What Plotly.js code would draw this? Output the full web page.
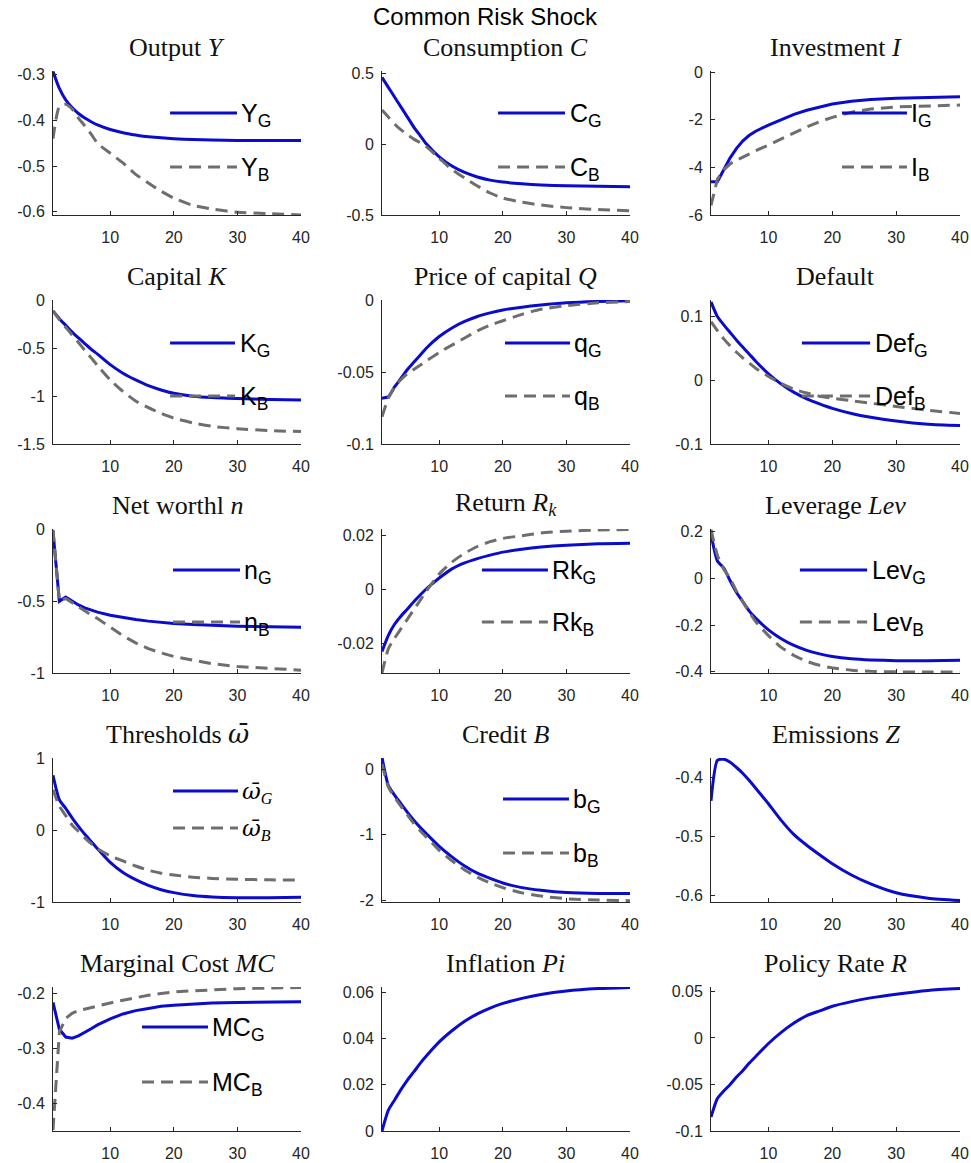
<!DOCTYPE html>
<html><head><meta charset="utf-8">
<script src="https://cdn.plot.ly/plotly-3.0.1.min.js"></script>
<style>html,body{margin:0;padding:0;background:#fff}</style>
</head><body><div id="chart" style="width:971px;height:1163px"></div>
<script>
// ---------------- data ----------------
const periods = [1,2,3,4,5,6,7,8,10,12,14,16,18,20,23,26,30,35,40];

const outputG = [-0.293,-0.33,-0.355,-0.372,-0.385,-0.395,-0.403,-0.41,-0.42,-0.427,-0.432,-0.436,-0.438,-0.44,-0.442,-0.443,-0.444,-0.444,-0.444];
const outputB = [-0.44,-0.37,-0.365,-0.375,-0.395,-0.412,-0.43,-0.45,-0.472,-0.493,-0.518,-0.537,-0.555,-0.57,-0.586,-0.594,-0.601,-0.604,-0.607];

const consG = [0.47,0.4,0.33,0.26,0.19,0.12,0.06,0.0,-0.09,-0.155,-0.2,-0.232,-0.254,-0.268,-0.28,-0.288,-0.294,-0.298,-0.3];
const consB = [0.24,0.19,0.14,0.1,0.065,0.035,0.01,-0.02,-0.1,-0.18,-0.24,-0.295,-0.345,-0.38,-0.41,-0.43,-0.448,-0.462,-0.47];

const invG = [-4.6,-4.6,-4.1,-3.6,-3.2,-2.88,-2.65,-2.48,-2.22,-1.98,-1.77,-1.6,-1.46,-1.34,-1.22,-1.15,-1.09,-1.05,-1.03];
const invB = [-5.6,-4.5,-4.1,-3.85,-3.7,-3.56,-3.42,-3.3,-3.06,-2.8,-2.54,-2.3,-2.08,-1.9,-1.68,-1.55,-1.46,-1.41,-1.38];

const capG = [-0.11,-0.19,-0.26,-0.33,-0.39,-0.45,-0.51,-0.56,-0.67,-0.76,-0.83,-0.89,-0.935,-0.97,-1.0,-1.015,-1.025,-1.035,-1.04];
const capB = [-0.11,-0.2,-0.28,-0.36,-0.44,-0.52,-0.6,-0.68,-0.83,-0.95,-1.05,-1.12,-1.18,-1.23,-1.28,-1.315,-1.34,-1.36,-1.37];

const qG = [-0.068,-0.067,-0.06,-0.054,-0.048,-0.043,-0.038,-0.033,-0.025,-0.019,-0.0145,-0.011,-0.0085,-0.0065,-0.0045,-0.003,-0.0015,-0.0005,0.0];
const qB = [-0.081,-0.068,-0.06,-0.055,-0.051,-0.048,-0.045,-0.042,-0.036,-0.031,-0.026,-0.021,-0.017,-0.014,-0.0095,-0.006,-0.0035,-0.0015,-0.0005];

const defG = [0.123,0.1,0.087,0.075,0.063,0.052,0.041,0.03,0.01,-0.006,-0.019,-0.029,-0.037,-0.044,-0.052,-0.058,-0.064,-0.069,-0.071];
const defB = [0.092,0.078,0.065,0.054,0.044,0.035,0.027,0.019,0.006,-0.005,-0.014,-0.02,-0.025,-0.028,-0.032,-0.036,-0.041,-0.047,-0.052];

const nwG = [-0.01,-0.5,-0.47,-0.5,-0.525,-0.545,-0.56,-0.575,-0.597,-0.613,-0.627,-0.638,-0.647,-0.654,-0.662,-0.668,-0.673,-0.677,-0.68];
const nwB = [0.0,-0.5,-0.48,-0.51,-0.54,-0.57,-0.595,-0.62,-0.68,-0.74,-0.79,-0.83,-0.86,-0.885,-0.91,-0.935,-0.955,-0.97,-0.98];

const rkG = [-0.023,-0.017,-0.0128,-0.0098,-0.0072,-0.0045,-0.002,0.0003,0.0043,0.0077,0.0099,0.0115,0.0128,0.0139,0.015,0.0158,0.0165,0.017,0.0172];
const rkB = [-0.031,-0.022,-0.018,-0.0145,-0.011,-0.0075,-0.004,-0.0005,0.0058,0.0102,0.0135,0.016,0.0178,0.019,0.02,0.021,0.0217,0.0221,0.0223];

const levG = [0.19,0.075,0.045,-0.01,-0.06,-0.1,-0.14,-0.17,-0.22,-0.258,-0.287,-0.308,-0.323,-0.334,-0.344,-0.349,-0.352,-0.352,-0.35];
const levB = [0.21,0.1,0.04,0.0,-0.055,-0.1,-0.145,-0.185,-0.245,-0.295,-0.33,-0.355,-0.372,-0.383,-0.393,-0.398,-0.4,-0.401,-0.4];

const omegaG = [0.76,0.42,0.3,0.17,0.05,-0.06,-0.16,-0.26,-0.45,-0.59,-0.69,-0.77,-0.83,-0.87,-0.91,-0.93,-0.94,-0.94,-0.935];
const omegaB = [0.56,0.33,0.2,0.07,-0.02,-0.11,-0.19,-0.26,-0.36,-0.43,-0.5,-0.56,-0.6,-0.625,-0.655,-0.672,-0.685,-0.692,-0.695];

const creditG = [0.18,-0.25,-0.4,-0.53,-0.66,-0.78,-0.89,-0.99,-1.18,-1.34,-1.48,-1.59,-1.67,-1.74,-1.81,-1.85,-1.885,-1.9,-1.9];
const creditB = [0.08,-0.27,-0.43,-0.57,-0.7,-0.83,-0.94,-1.04,-1.24,-1.4,-1.54,-1.65,-1.74,-1.81,-1.89,-1.94,-1.98,-2.0,-2.01];

const emissions = [-0.44,-0.372,-0.37,-0.375,-0.384,-0.394,-0.406,-0.419,-0.445,-0.473,-0.497,-0.515,-0.531,-0.546,-0.565,-0.58,-0.595,-0.604,-0.608];

const mcG = [-0.216,-0.265,-0.279,-0.281,-0.277,-0.271,-0.264,-0.257,-0.246,-0.237,-0.231,-0.227,-0.223,-0.221,-0.219,-0.217,-0.216,-0.215,-0.215];
const mcB = [-0.448,-0.27,-0.245,-0.236,-0.231,-0.228,-0.225,-0.222,-0.217,-0.212,-0.207,-0.203,-0.2,-0.197,-0.195,-0.193,-0.191,-0.19,-0.189];

const inflation = [0.0,0.009,0.0135,0.018,0.022,0.0255,0.0292,0.0325,0.0385,0.0433,0.0474,0.0506,0.0531,0.0551,0.0573,0.059,0.0605,0.0615,0.062];
const policyRate = [-0.085,-0.065,-0.057,-0.05,-0.042,-0.035,-0.027,-0.02,-0.006,0.006,0.016,0.024,0.029,0.034,0.039,0.043,0.047,0.051,0.053];

const superTitle = "Common Risk Shock";
const OMEGA = "<span style='font-family:DejaVu Serif'>\u03C9\u0304</span>";
const titles = ["Output <i>Y</i>","Consumption <i>C</i>","Investment <i>I</i>",
  "Capital <i>K</i>","Price of capital <i>Q</i>","Default",
  "Net worthl <i>n</i>","Return <i>R<sub>k</sub></i>","Leverage <i>Lev</i>",
  "Thresholds <i>"+OMEGA+"</i>","Credit <i>B</i>","Emissions <i>Z</i>",
  "Marginal Cost <i>MC</i>","Inflation <i>Pi</i>","Policy Rate <i>R</i>"];
const legendG = ["Y<sub>G</sub>","C<sub>G</sub>","I<sub>G</sub>","K<sub>G</sub>","q<sub>G</sub>","Def<sub>G</sub>",
  "n<sub>G</sub>","Rk<sub>G</sub>","Lev<sub>G</sub>","<i>"+OMEGA+"</i><sub><i>G</i></sub>","b<sub>G</sub>",null,
  "MC<sub>G</sub>",null,null];
const legendB = ["Y<sub>B</sub>","C<sub>B</sub>","I<sub>B</sub>","K<sub>B</sub>","q<sub>B</sub>","Def<sub>B</sub>",
  "n<sub>B</sub>","Rk<sub>B</sub>","Lev<sub>B</sub>","<i>"+OMEGA+"</i><sub><i>B</i></sub>","b<sub>B</sub>",null,
  "MC<sub>B</sub>",null,null];
const xTickVals = [10,20,30,40];
const xTickText = ["10","20","30","40"];
const yTickVals = [[-0.6,-0.5,-0.4,-0.3],[-0.5,0,0.5],[-6,-4,-2,0],
  [-1.5,-1,-0.5,0],[-0.1,-0.05,0],[-0.1,0,0.1],
  [-1,-0.5,0],[-0.02,0,0.02],[-0.4,-0.2,0,0.2],
  [-1,0,1],[-2,-1,0],[-0.6,-0.5,-0.4],
  [-0.4,-0.3,-0.2],[0,0.02,0.04,0.06],[-0.1,-0.05,0,0.05]];
const yTickText = [["-0.6","-0.5","-0.4","-0.3"],["-0.5","0","0.5"],["-6","-4","-2","0"],
  ["-1.5","-1","-0.5","0"],["-0.1","-0.05","0"],["-0.1","0","0.1"],
  ["-1","-0.5","0"],["-0.02","0","0.02"],["-0.4","-0.2","0","0.2"],
  ["-1","0","1"],["-2","-1","0"],["-0.6","-0.5","-0.4"],
  ["-0.4","-0.3","-0.2"],["0","0.02","0.04","0.06"],["-0.1","-0.05","0","0.05"]];

// ---------------- panel configuration ----------------
const seriesG = [outputG,consG,invG,capG,qG,defG,nwG,rkG,levG,omegaG,creditG,emissions,mcG,inflation,policyRate];
const seriesB = [outputB,consB,invB,capB,qB,defB,nwB,rkB,levB,omegaB,creditB,null,mcB,null,null];
const yRanges = [[-0.607,-0.292],[-0.5,0.515],[-6,0.05],
  [-1.5,0.005],[-0.1,0.0005],[-0.1,0.126],
  [-1,0.005],[-0.031,0.0225],[-0.405,0.212],
  [-1,1],[-2.03,0.17],[-0.6105,-0.368],
  [-0.45,-0.188],[0,0.0622],[-0.1,0.0547]];
const lineShape = ['spline','spline','linear','spline','spline','spline','linear','spline','spline','spline','spline','spline','linear','spline','spline'];
// legend sample [x0, x1, yG, yB] in axis-domain fractions
const legPos = [[0.472,0.742,0.708,0.333],[0.468,0.738,0.708,0.333],[0.526,0.787,0.708,0.333],
  [0.472,0.734,0.701,0.333],[0.496,0.758,0.701,0.333],[0.365,0.639,0.701,0.333],
  [0.484,0.754,0.715,0.354],[0.403,0.669,0.715,0.354],[0.357,0.627,0.715,0.354],
  [0.484,0.746,0.771,0.514],[0.488,0.754,0.715,0.34],null,
  [0.359,0.625,0.722,0.34],null,null];

const W = 971, H = 1163;
const colLeft = [53,382,711], colRight = [301,630,960];
const rowTop = [71,300,529,758,987], plotH = 144;
const BLUE = '#0b0bcc', GRAY = '#6e6e6e', AX = '#262626';
const SANS = 'Liberation Sans, Arial, sans-serif';
const SERIF = 'Liberation Serif, Times New Roman, serif';

const data = [], layout = {
  width: W, height: H, autosize: false,
  margin: {l:0, r:0, t:0, b:0, pad:0},
  paper_bgcolor: '#fff', plot_bgcolor: '#fff',
  showlegend: false, shapes: [], annotations: []
};

for (let i = 0; i < 15; i++) {
  const r = Math.floor(i/3), c = i % 3;
  const sfx = i === 0 ? '' : String(i+1);
  const xa = 'x'+sfx, ya = 'y'+sfx;
  const x0 = colLeft[c]/W, x1 = colRight[c]/W;
  const yTop = 1 - rowTop[r]/H, yBot = 1 - (rowTop[r]+plotH)/H;
  layout['xaxis'+sfx] = {
    domain:[x0,x1], anchor: ya, range:[1,40], tickmode:'array',
    tickvals: xTickVals, ticktext: xTickText, ticks:'inside', ticklen:4, tickwidth:1, tickcolor:AX,
    showline:true, linecolor:AX, linewidth:1, showgrid:false, zeroline:false,
    tickfont:{family:SANS, size:16, color:AX}, ticklabelstandoff: 8, fixedrange:true
  };
  layout['yaxis'+sfx] = {
    domain:[yBot,yTop], anchor: xa, range: yRanges[i], tickmode:'array',
    tickvals: yTickVals[i], ticktext: yTickText[i], ticks:'inside', ticklen:4, tickwidth:1, tickcolor:AX,
    showline:true, linecolor:AX, linewidth:1, showgrid:false, zeroline:false,
    tickfont:{family:SANS, size:16, color:AX}, ticklabelstandoff: 4, fixedrange:true
  };
  data.push({x: periods, y: seriesG[i], xaxis: xa, yaxis: ya, type:'scatter', mode:'lines',
    line:{color:BLUE, width:3, shape: lineShape[i], smoothing:0.6}, hoverinfo:'skip'});
  if (seriesB[i]) {
    data.push({x: periods, y: seriesB[i], xaxis: xa, yaxis: ya, type:'scatter', mode:'lines',
      line:{color:GRAY, width:3, dash:'12px,7px', shape: lineShape[i], smoothing:0.6}, hoverinfo:'skip'});
  }
  // subplot title
  layout.annotations.push({text: titles[i], xref:'paper', yref:'paper',
    x: (x0+x1)/2, y: 1 - (rowTop[r]-7)/H, xanchor:'center', yanchor:'bottom',
    showarrow:false, font:{family:SERIF, size:26, color:'#111'}});
  // legend
  const lp = legPos[i];
  if (lp) {
    const xr = xa+' domain', yr = ya+' domain';
    const isSerif = (i === 9);
    const lf = isSerif ? {family:SERIF, size:23, color:'#000'} : {family:SANS, size:25, color:'#000'};
    layout.shapes.push({type:'line', xref:xr, yref:yr, x0:lp[0], x1:lp[1], y0:lp[2], y1:lp[2],
      line:{color:BLUE, width:3}});
    layout.shapes.push({type:'line', xref:xr, yref:yr, x0:lp[0], x1:lp[1], y0:lp[3], y1:lp[3],
      line:{color:GRAY, width:3, dash:'12px,7px'}});
    layout.annotations.push({text: legendG[i], xref:xr, yref:yr, x: lp[1]+0.01, y: lp[2],
      xanchor:'left', yanchor:'middle', yshift:-2, showarrow:false, font: lf});
    layout.annotations.push({text: legendB[i], xref:xr, yref:yr, x: lp[1]+0.01, y: lp[3],
      xanchor:'left', yanchor:'middle', yshift:-2, showarrow:false, font: lf});
  }
}
layout.annotations.push({text: superTitle, xref:'paper', yref:'paper', x: 486/W, y: 1 - 16/H,
  xanchor:'center', yanchor:'middle', showarrow:false, font:{family:SANS, size:24, color:'#000'}});

Plotly.newPlot('chart', data, layout, {displayModeBar:false, staticPlot:true});
</script></body></html>
